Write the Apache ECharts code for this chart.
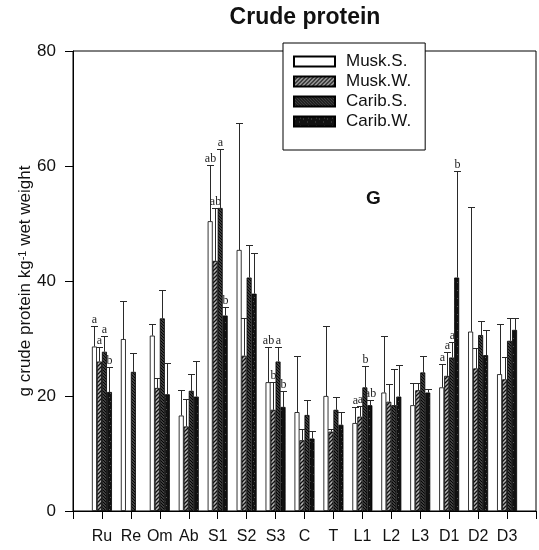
<!DOCTYPE html>
<html>
<head>
<meta charset="utf-8">
<script src="https://cdn.jsdelivr.net/npm/echarts@6/dist/echarts.min.js"></script>
<style>
  html, body { margin: 0; padding: 0; background: #fff; }
  #chart { width: 539px; height: 550px; }
</style>
</head>
<body>
<div id="chart"></div>
<script>
// categories (x axis)
const categories = ['Ru', 'Re', 'Om', 'Ab', 'S1', 'S2', 'S3', 'C', 'T', 'L1', 'L2', 'L3', 'D1', 'D2', 'D3'];
const seriesNames = ['Musk.S.', 'Musk.W.', 'Carib.S.', 'Carib.W.'];

// means, g crude protein per kg wet weight
const muskS = [28.6, 29.9, 30.5, 16.6, 50.4, 45.4, 22.4, 17.2, 20.0, 15.3, 20.6, 18.4, 21.5, 31.2, 23.8];
const muskW = [26.0, null, 21.4, 14.7, 43.5, 27.0, 17.6, 12.3, 13.8, 16.4, 19.0, 21.0, 23.5, 24.8, 22.9];
const caribS = [27.7, 24.2, 33.5, 20.9, 52.7, 40.6, 26.0, 16.7, 17.6, 21.5, 18.4, 24.1, 26.7, 30.6, 29.6];
const caribW = [20.7, null, 20.3, 19.9, 34.0, 37.8, 18.1, 12.6, 15.0, 18.4, 19.9, 20.6, 40.6, 27.1, 31.5];

// top of the error bars (mean + error)
const muskSErr = [32.2, 36.5, 32.6, 21.0, 60.2, 67.4, 28.5, 27.0, 32.2, 18.1, 30.4, 22.2, 25.5, 52.9, 32.5];
const muskWErr = [28.5, null, 23.1, 19.5, 52.7, 33.5, 22.4, 14.3, 14.3, 18.3, 22.1, 22.2, 27.6, 28.4, 26.7];
const caribSErr = [30.4, 27.4, 38.4, 23.9, 63.0, 46.3, 28.5, 19.3, 19.9, 25.2, 24.7, 27.0, 29.4, 33.1, 33.6];
const caribWErr = [25.0, null, 25.7, 26.1, 35.5, 44.9, 20.8, 13.9, 17.3, 19.3, 25.4, 21.2, 59.2, 31.5, 33.6];

// significance letters
const sigMuskS = ['a', '', '', '', 'ab', '', 'ab', '', '', 'a', '', '', 'a', '', ''];
const sigMuskW = ['a', '', '', '', 'ab', '', 'b', '', '', 'a', '', '', 'a', '', ''];
const sigCaribS = ['a', '', '', '', 'a', '', 'a', '', '', 'b', '', '', 'a', '', ''];
const sigCaribW = ['b', '', '', '', 'b', '', 'b', '', '', 'ab', '', '', 'b', '', ''];

const yTicks = [0, 20, 40, 60, 80];

const FONT = '"Liberation Sans", Arial, Helvetica, sans-serif';
const BAR_W = 5;

// hatch fills like the printed figure
let hatch = (bg, fg, size, lw, slash) => {
  let c = document.createElement('canvas');
  c.width = size;
  c.height = size;
  let ctx = c.getContext('2d');
  ctx.fillStyle = bg;
  ctx.fillRect(0, 0, size, size);
  ctx.strokeStyle = fg;
  ctx.lineWidth = lw;
  ctx.beginPath();
  if (slash) {
    ctx.moveTo(-1, size + 1); ctx.lineTo(size + 1, -1);
    ctx.moveTo(-1, 1); ctx.lineTo(1, -1);
    ctx.moveTo(size - 1, size + 1); ctx.lineTo(size + 1, size - 1);
  } else {
    ctx.moveTo(-1, -1); ctx.lineTo(size + 1, size + 1);
    ctx.moveTo(size - 1, -1); ctx.lineTo(size + 1, 1);
    ctx.moveTo(-1, size - 1); ctx.lineTo(1, size + 1);
  }
  ctx.stroke();
  return c;
}

let speckle = () => {
  let c = document.createElement('canvas');
  c.width = 8;
  c.height = 8;
  let ctx = c.getContext('2d');
  ctx.fillStyle = '#111111';
  ctx.fillRect(0, 0, 8, 8);
  ctx.fillStyle = '#555555';
  ctx.fillRect(1, 2, 1, 1);
  ctx.fillRect(5, 5, 1, 1);
  ctx.fillRect(6, 1, 1, 1);
  return c;
}

const fills = [
  '#ffffff',
  {image: hatch('#b4b4b4', '#111111', 4, 1.3, true), repeat: 'repeat'},
  {image: hatch('#6e6e6e', '#050505', 3, 1.3, false), repeat: 'repeat'},
  {image: speckle(), repeat: 'repeat'}
];

const means = [muskS, muskW, caribS, caribW];
const errs = [muskSErr, muskWErr, caribSErr, caribWErr];
const sigs = [sigMuskS, sigMuskW, sigCaribS, sigCaribW];

// padding categories at both ends so the groups sit on the ticks
const xData = [''].concat(categories, ['']);

let errorBar = (k) => (params, api) => {
  let idx = api.value(0);
  let base = api.coord([idx, api.value(1)]);
  let top = api.coord([idx, api.value(2)]);
  let x = Math.round(base[0] + (k - 1.5) * BAR_W) + 0.5;
  let yt = Math.round(top[1]) + 0.5;
  let children = [
    {type: 'line', shape: {x1: x, y1: base[1], x2: x, y2: yt}, style: {stroke: '#2a2a2a', lineWidth: 1}},
    {type: 'line', shape: {x1: x - 3.5, y1: yt, x2: x + 3.5, y2: yt}, style: {stroke: '#2a2a2a', lineWidth: 1}}
  ];
  let s = sigs[k][idx - 1];
  if (s) {
    children.push({
      type: 'text',
      x: x,
      y: yt - 1,
      style: {text: s, textAlign: 'center', textVerticalAlign: 'bottom', font: '12px "Liberation Serif", serif', fill: '#222'}
    });
  }
  return {type: 'group', children: children};
}

let series = [];
seriesNames.forEach((name, k) => {
  series.push({
    name: name,
    type: 'bar',
    barWidth: BAR_W,
    barGap: '0%',
    data: [null].concat(means[k], [null]),
    itemStyle: {color: fills[k], borderColor: '#000', borderWidth: 0.8},
    emphasis: {disabled: true},
    z: 2
  });
});
seriesNames.forEach((name, k) => {
  let pts = [];
  means[k].forEach((v, i) => {
    if (v != null && errs[k][i] != null) pts.push([i + 1, v, errs[k][i]]);
  });
  series.push({
    type: 'custom',
    renderItem: errorBar(k),
    data: pts,
    encode: {x: 0, y: [1, 2]},
    silent: true,
    z: 3
  });
});

let chart = echarts.init(document.getElementById('chart'), null, {renderer: 'canvas'});
chart.setOption({
  animation: false,
  backgroundColor: '#fff',
  textStyle: {fontFamily: FONT},
  grid: {left: 73, right: 1, top: 51, bottom: 39, show: true, borderColor: '#000', borderWidth: 1},
  legend: {
    data: seriesNames,
    orient: 'vertical',
    left: 283,
    top: 43,
    itemWidth: 41,
    itemHeight: 10,
    itemGap: 3,
    icon: 'rect',
    padding: [10, 14, 20, 10],
    backgroundColor: '#fff',
    borderColor: '#000',
    borderWidth: 1,
    borderRadius: 0,
    textStyle: {fontSize: 17, color: '#111', fontFamily: FONT, lineHeight: 17, padding: [0, 0, 0, 6]}
  },
  graphic: [
    {type: 'text', x: 305, y: 18, style: {text: 'Crude protein', textAlign: 'center', textVerticalAlign: 'middle', font: 'bold 23px ' + FONT, fill: '#111'}},
    {type: 'text', x: 366, y: 189, style: {text: 'G', font: 'bold 19px ' + FONT, fill: '#111'}}
  ],
  xAxis: {
    type: 'category',
    data: xData,
    boundaryGap: false,
    axisLine: {lineStyle: {color: '#000', width: 1}},
    axisTick: {length: 8, lineStyle: {color: '#000'}},
    axisLabel: {fontSize: 16, color: '#111', margin: 18, interval: 0, fontFamily: FONT},
    splitLine: {show: false}
  },
  yAxis: {
    type: 'value',
    min: yTicks[0],
    max: yTicks[yTicks.length - 1],
    interval: yTicks[1] - yTicks[0],
    name: 'g crude protein kg{s|-1} wet weight',
    nameLocation: 'middle',
    nameRotate: 90,
    nameGap: 39,
    nameMoveOverlap: false,
    nameTextStyle: {
      fontSize: 17, color: '#111', fontFamily: FONT,
      rich: {s: {fontSize: 11, verticalAlign: 'top', lineHeight: 11, fontFamily: FONT, color: '#111'}}
    },
    axisLine: {show: true, lineStyle: {color: '#000', width: 1}},
    axisTick: {show: true, length: 8, lineStyle: {color: '#000'}},
    axisLabel: {fontSize: 17, color: '#111', margin: 17, fontFamily: FONT},
    splitLine: {show: false}
  },
  series: series
});
</script>
</body>
</html>
